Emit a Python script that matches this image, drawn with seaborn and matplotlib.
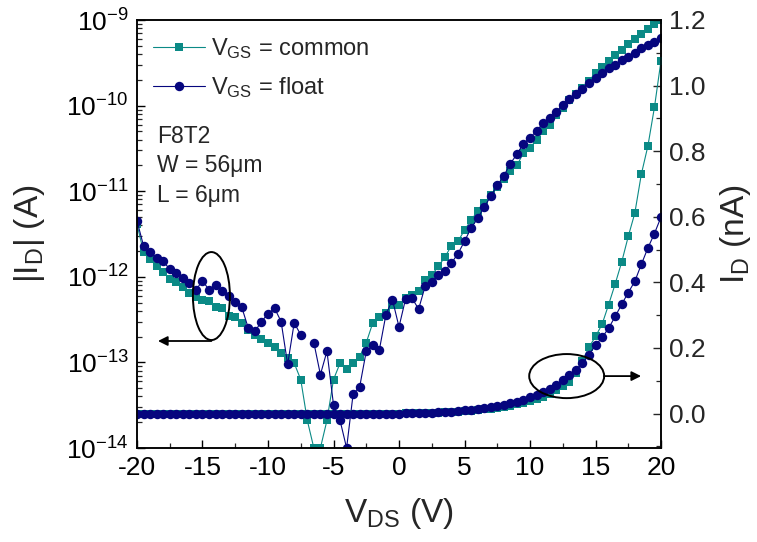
import numpy as np
import pandas as pd
import matplotlib
matplotlib.use("Agg")
import matplotlib.pyplot as plt
import seaborn as sns
from matplotlib.patches import Ellipse
from matplotlib.lines import Line2D
from matplotlib.ticker import MultipleLocator, LogLocator, FormatStrFormatter, NullFormatter

# Drain-voltage sweep (V)
v_ds = np.arange(-20.0, 20.5, 0.5)

# |I_D| in A, log axis
id_log_common = [
    4.1e-12, 1.95e-12, 1.62e-12, 1.32e-12, 1.15e-12, 9.5e-13, 8.7e-13, 7.6e-13, 6.5e-13, 5.8e-13,
    5.4e-13, 5.2e-13, 4.4e-13, 4.3e-13, 3.5e-13, 3.4e-13, 2.9e-13, 2.4e-13, 2.1e-13, 1.9e-13,
    1.7e-13, 1.5e-13, 1.3e-13, 1.12e-13, 9.8e-14, 6.3e-14, 2.1e-14, 1.0e-14, 1.0e-14, 2.1e-14,
    6.3e-14, 9.8e-14, 8.3e-14, 9.8e-14, 1.17e-13, 1.7e-13, 2.9e-13, 3.4e-13, 3.8e-13, 4.7e-13,
    4.7e-13, 5.6e-13, 6.2e-13, 6.8e-13, 9.1e-13, 1.05e-12, 1.32e-12, 1.7e-12, 2.3e-12, 2.6e-12,
    3.5e-12, 4.6e-12, 5.8e-12, 7.2e-12, 9.1e-12, 1.12e-11, 1.38e-11, 1.7e-11, 2.0e-11, 2.8e-11,
    3.2e-11, 4.0e-11, 5.0e-11, 6.0e-11, 7.8e-11, 9.3e-11, 1.17e-10, 1.35e-10, 1.62e-10, 1.95e-10,
    2.4e-10, 2.8e-10, 3.3e-10, 3.9e-10, 4.5e-10, 5.2e-10, 6.0e-10, 6.9e-10, 7.9e-10, 9.1e-10,
    1.0e-9,
]
id_log_float = [
    4.5e-12, 2.3e-12, 1.95e-12, 1.66e-12, 1.51e-12, 1.23e-12, 1.10e-12, 9.8e-13, 8.5e-13, 7.1e-13,
    8.9e-13, 7.1e-13, 8.1e-13, 6.8e-13, 5.9e-13, 5.1e-13, 4.4e-13, 2.5e-13, 2.3e-13, 3.0e-13,
    3.7e-13, 4.3e-13, 3.0e-13, 9.5e-14, 2.9e-13, 2.1e-13, np.nan, 1.7e-13, 7.2e-14, 1.35e-13,
    3.2e-14, 2.1e-14, 1.0e-14, 4.3e-14, 5.2e-14, 1.35e-13, 1.6e-13, 1.4e-13, 3.6e-13, 5.4e-13,
    2.6e-13, 5.5e-13, 5.6e-13, 4.2e-13, 7.8e-13, 8.7e-13, 1.05e-12, 1.17e-12, 1.45e-12, 1.86e-12,
    2.6e-12, 3.7e-12, 4.8e-12, 6.5e-12, 8.7e-12, 1.17e-11, 1.51e-11, 2.1e-11, 2.7e-11, 3.6e-11,
    4.2e-11, 5.1e-11, 6.2e-11, 7.1e-11, 8.5e-11, 1.02e-10, 1.20e-10, 1.38e-10, 1.58e-10, 1.86e-10,
    2.1e-10, 2.4e-10, 2.75e-10, 3.0e-10, 3.4e-10, 3.7e-10, 4.1e-10, 4.7e-10, 5.1e-10, 5.6e-10,
    6.2e-10,
]

# I_D in nA, linear axis
id_lin_common = [
    0.000, 0.000, 0.000, 0.000, 0.000, 0.000, 0.000, 0.000, 0.000, 0.000,
    0.000, 0.000, 0.000, 0.000, 0.000, 0.000, 0.000, 0.000, 0.000, 0.000,
    0.000, 0.000, 0.000, 0.000, 0.000, 0.000, 0.000, 0.000, 0.000, 0.000,
    0.000, 0.000, 0.000, 0.000, 0.000, 0.000, 0.000, 0.000, 0.000, 0.000,
    0.000, 0.001, 0.001, 0.001, 0.002, 0.002, 0.003, 0.004, 0.005, 0.006,
    0.008, 0.009, 0.011, 0.013, 0.015, 0.018, 0.021, 0.024, 0.028, 0.033,
    0.038, 0.044, 0.051, 0.060, 0.071, 0.083, 0.097, 0.125, 0.160, 0.202,
    0.235, 0.272, 0.332, 0.395, 0.462, 0.540, 0.611, 0.730, 0.816, 0.934,
    1.076,
]
id_lin_float = [
    0.000, 0.000, 0.000, 0.000, 0.000, 0.000, 0.000, 0.000, 0.000, 0.000,
    0.000, 0.000, 0.000, 0.000, 0.000, 0.000, 0.000, 0.000, 0.000, 0.000,
    0.000, 0.000, 0.000, 0.000, 0.000, 0.000, 0.000, 0.000, 0.000, 0.000,
    0.000, 0.000, 0.000, 0.000, 0.000, 0.000, 0.000, 0.000, 0.000, 0.000,
    0.000, 0.001, 0.001, 0.002, 0.002, 0.003, 0.004, 0.005, 0.006, 0.008,
    0.010, 0.012, 0.014, 0.017, 0.020, 0.023, 0.027, 0.031, 0.036, 0.042,
    0.049, 0.057, 0.066, 0.076, 0.088, 0.103, 0.119, 0.134, 0.153, 0.180,
    0.208, 0.232, 0.260, 0.296, 0.333, 0.369, 0.403, 0.455, 0.505, 0.549,
    0.599,
]

labels = [r"V$_{\mathrm{GS}}$ = common", r"V$_{\mathrm{GS}}$ = float"]
device_text = ["F8T2", "W = 56\u03bcm", "L = 6\u03bcm"]
log_decades = [1e-14, 1e-13, 1e-12, 1e-11, 1e-10, 1e-9]

TEAL = "#0b8a86"
NAVY = "#06067e"
SQ_MS = 5.8
CI_MS = 6.8

sns.set_theme(style="ticks")
plt.rcParams["font.family"] = ["Liberation Sans", "DejaVu Sans"]
plt.rcParams["mathtext.fontset"] = "custom"
plt.rcParams["mathtext.rm"] = "Liberation Sans"
plt.rcParams["mathtext.it"] = "Liberation Sans:italic"
plt.rcParams["mathtext.default"] = "regular"
plt.rcParams["axes.unicode_minus"] = False

fig = plt.figure(figsize=(7.57, 5.42), dpi=100)
ax = fig.add_axes([137 / 757, 1 - 448 / 542, 524 / 757, 428 / 542])
ax2 = ax.twinx()


def draw(axis, x, y, color, marker, ms):
    df = pd.DataFrame({"V": x, "I": y})
    df["seg"] = np.cumsum(df["I"].isna().to_numpy())
    df = df.dropna()
    sns.lineplot(data=df, x="V", y="I", units="seg", estimator=None, sort=False,
                 color=color, marker=marker, markersize=ms, markeredgewidth=0,
                 markeredgecolor=color, linewidth=0.8, ax=axis, legend=False)


ax.set_yscale("log")
draw(ax, v_ds, id_log_common, TEAL, "s", SQ_MS)
draw(ax, v_ds, id_log_float, NAVY, "o", CI_MS)
draw(ax2, v_ds, id_lin_common, TEAL, "s", SQ_MS)
draw(ax2, v_ds, id_lin_float, NAVY, "o", CI_MS)

ax.set_xlim(-20, 20)
ax.set_ylim(log_decades[0], log_decades[-1])
ax2.set_ylim(-0.105, 1.2)

ax.xaxis.set_major_locator(MultipleLocator(5))
ax.xaxis.set_minor_locator(MultipleLocator(2.5))
ax.set_yticks(log_decades)
ax.yaxis.set_minor_locator(LogLocator(base=10, subs=np.arange(2, 10), numticks=20))
ax.yaxis.set_minor_formatter(NullFormatter())
ax2.yaxis.set_major_locator(MultipleLocator(0.2))
ax2.yaxis.set_minor_locator(MultipleLocator(0.1))
ax2.yaxis.set_major_formatter(FormatStrFormatter("%.1f"))
ax2.tick_params(axis="x", which="both", bottom=False, labelbottom=False)

for a in (ax, ax2):
    for s in a.spines.values():
        s.set_linewidth(1.1)
        s.set_color("black")
        s.set_visible(True)
ax.tick_params(axis="both", which="major", direction="in", length=6, width=1.0,
               labelsize=19, colors="black", pad=6)
ax.tick_params(axis="both", which="minor", direction="in", length=3.5, width=0.9)
ax.tick_params(axis="y", which="both", right=False)
ax2.tick_params(axis="y", which="major", direction="in", length=6, width=1.0,
                labelsize=19, pad=6)
ax2.tick_params(axis="y", which="minor", direction="in", length=3.5, width=0.9)

ax2.set_xlabel("")
ax.set_xlabel(r"V$_{\mathrm{DS}}$ (V)", fontsize=24, labelpad=11)
ax.set_ylabel(r"|I$_{\mathrm{D}}$| (A)", fontsize=24, labelpad=14)
ax2.set_ylabel(r"I$_{\mathrm{D}}$ (nA)", fontsize=24, labelpad=9)

handles = [
    Line2D([], [], color=TEAL, lw=0.8, marker="s", ms=SQ_MS, mew=0),
    Line2D([], [], color=NAVY, lw=0.8, marker="o", ms=CI_MS, mew=0),
]
ax.legend(handles, labels, loc="upper left", bbox_to_anchor=(0.03, 0.962),
          frameon=False, fontsize=17, handlelength=2.2, handletextpad=0.25,
          labelspacing=0.6, borderpad=0, borderaxespad=0, numpoints=1)

for txt, yf in zip(device_text, (0.727, 0.659, 0.589)):
    ax.text(0.038, yf, txt, transform=ax.transAxes, fontsize=16.5, va="center", ha="left")

# ellipses grouping each branch with its axis
ax.add_patch(Ellipse((0.142, 0.355), 0.0706, 0.2056, transform=ax.transAxes,
                     fill=False, lw=1.4, ec="black", zorder=5))
ax.annotate("", xy=(0.040, 0.25), xytext=(0.142, 0.25), xycoords="axes fraction",
            arrowprops=dict(arrowstyle="-|>", lw=1.3, color="black",
                            mutation_scale=14, shrinkA=0, shrinkB=0))
ax2.add_patch(Ellipse((0.820, 0.168), 0.143, 0.103, transform=ax2.transAxes,
                      fill=False, lw=1.4, ec="black", zorder=5))
ax2.annotate("", xy=(0.962, 0.168), xytext=(0.891, 0.168), xycoords="axes fraction",
             arrowprops=dict(arrowstyle="-|>", lw=1.3, color="black",
                             mutation_scale=14, shrinkA=0, shrinkB=0))

fig.savefig("out.png", dpi=100)
